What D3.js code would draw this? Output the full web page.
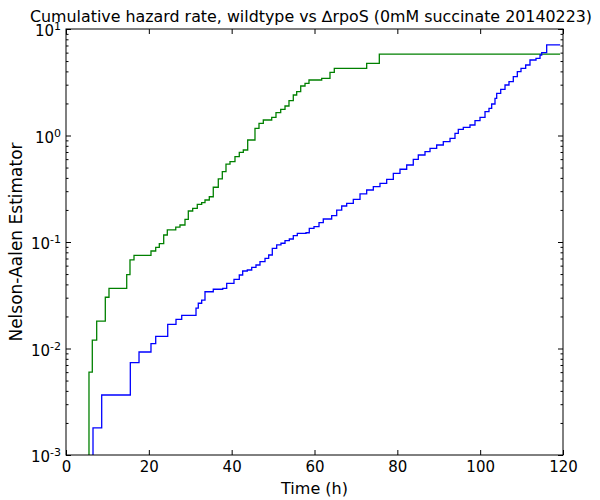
<!DOCTYPE html>
<html><head><meta charset="utf-8">
<script src="https://cdn.jsdelivr.net/npm/d3@7"></script>
<style>body{margin:0;background:#fff}</style>
</head><body><svg id="c" width="600" height="500"></svg>
<script>
// Wildtype (green) Nelson-Aalen steps: time (h) and cumulative hazard after the step
const wtTimes = [5.55,6.35,7.41,9.49,10.38,14.66,15.45,16.42,20.52,21.66,22.53,23.59,24.46,26.5,27.52,28.73,29.53,30.59,31.70,32.76,33.56,34.60,35.56,36.77,37.74,38.63,39.60,40.80,41.84,42.81,43.87,45.63,46.60,47.64,49.67,50.70,51.84,52.88,53.84,54.88,55.70,56.67,57.71,58.67,61.74,63.74,64.78,72.60,75.65];
const wtValues = [0.006,0.012,0.0181,0.0303,0.0367,0.0493,0.0678,0.075,0.0823,0.0891,0.0964,0.1164,0.1297,0.138,0.1444,0.1633,0.1955,0.2072,0.2259,0.2339,0.2479,0.2661,0.3266,0.3908,0.4571,0.5396,0.5675,0.6326,0.6953,0.7309,0.9075,1.168,1.302,1.398,1.482,1.637,1.762,1.892,2.122,2.400,2.577,2.916,3.093,3.321,3.445,3.923,4.276,4.764,5.82];
// ΔrpoS (blue)
const rpoTimes = [6.52,8.62,15.53,17.63,20.52,21.66,24.56,26.56,27.94,31.39,31.94,32.76,33.56,35.56,37.84,38.80,40.56,41.84,42.66,43.77,44.84,45.87,46.84,48.05,48.94,49.81,50.87,51.91,52.88,53.92,54.88,55.85,57.95,58.74,59.88,61.09,62.12,64.15,65.36,66.57,67.77,69.37,70.99,72.60,74.20,75.81,77.43,79.03,80.64,82.26,83.85,85.06,86.68,87.89,89.50,91.10,92.72,93.92,94.72,95.93,97.54,98.75,99.96,101.17,102.13,102.78,103.58,103.99,104.96,106.00,106.96,108.00,108.97,109.86,110.99,112.03,113.48,114.45,114.86,116.06];
const rpoValues = [0.0018,0.00366,0.00736,0.00927,0.01109,0.01302,0.01687,0.0188,0.0205,0.0239,0.0266,0.0285,0.0341,0.036,0.0367,0.0409,0.0446,0.049,0.0534,0.0546,0.0578,0.0608,0.0653,0.0703,0.0755,0.0873,0.0938,0.0973,0.1028,0.1067,0.1146,0.1207,0.1222,0.1345,0.1393,0.1518,0.1644,0.1766,0.1996,0.2178,0.2307,0.2517,0.2825,0.3079,0.3306,0.3556,0.3881,0.4418,0.4819,0.5286,0.5977,0.6562,0.7047,0.758,0.8147,0.8752,0.9411,1.049,1.144,1.194,1.255,1.377,1.482,1.673,1.799,1.976,2.235,2.49,2.716,2.981,3.201,3.567,3.972,4.277,4.594,5.117,5.31,5.703,5.999,7.08];
const endTime = 119.3;
const xTicks = [0,20,40,60,80,100,120];
const yTicks = [1e-3,1e-2,1e-1,1,10];
const yTickExp = ["-3","-2","-1","0","1"];
const titleText = "Cumulative hazard rate, wildtype vs \u2206rpoS (0mM succinate 20140223)";
const xLabel = "Time (h)";
const yLabel = "Nelson-Aalen Estimator";

const L=66,R=563,T=29,B=455;
const svg=d3.select("#c");
const font="DejaVu Sans";
const x=d3.scaleLinear().domain([0,120]).range([L,R]);
const y=d3.scaleLog().domain([1e-3,10]).range([B,T]);

svg.append("defs").append("clipPath").attr("id","clip").append("rect")
  .attr("x",L).attr("y",T).attr("width",R-L).attr("height",B-T);

function series(times, values){
  const pts=[[times[0],1e-5]];
  times.forEach((t,i)=>pts.push([t,values[i]]));
  pts.push([endTime,values[values.length-1]]);
  return pts;
}
const line=d3.line().x(d=>x(d[0])).y(d=>y(d[1])).curve(d3.curveStepAfter);
const g=svg.append("g").attr("clip-path","url(#clip)");
g.append("path").attr("d",line(series(wtTimes,wtValues))).attr("fill","none").attr("stroke","#008000").attr("stroke-width",1.3);
g.append("path").attr("d",line(series(rpoTimes,rpoValues))).attr("fill","none").attr("stroke","#0000ff").attr("stroke-width",1.3);

// minor ticks
const minor=[];
for(let e=-3;e<1;e++) for(let k=2;k<10;k++) minor.push(k*Math.pow(10,e));

function styleAxis(sel){
  sel.select(".domain").remove();
  sel.selectAll("line").attr("stroke","#000");
  sel.selectAll("text").attr("fill","#000").attr("font-family",font);
}
svg.append("g").attr("transform",`translate(0,${B})`)
  .call(d3.axisBottom(x).tickValues(xTicks).tickSizeInner(-5).tickSizeOuter(0).tickPadding(6).tickFormat(d3.format("d")))
  .call(styleAxis).selectAll("text").attr("font-size",15);
svg.append("g").attr("transform",`translate(0,${T})`)
  .call(d3.axisTop(x).tickValues(xTicks).tickSizeInner(-5).tickSizeOuter(0).tickFormat(""))
  .call(styleAxis);
const yl=svg.append("g").attr("transform",`translate(${L},0)`)
  .call(d3.axisLeft(y).tickValues(yTicks).tickSizeInner(-5).tickSizeOuter(0).tickPadding(5).tickFormat(""))
  .call(styleAxis);
yl.selectAll(".tick text").each(function(d,i){
  const t=d3.select(this).attr("font-size",15).attr("dy","0.45em");
  t.append("tspan").text("10");
  t.append("tspan").attr("dy","-0.55em").attr("font-size",11).text(yTickExp[i]);
});
svg.append("g").attr("transform",`translate(${L},0)`)
  .call(d3.axisLeft(y).tickValues(minor).tickSizeInner(-2.5).tickSizeOuter(0).tickFormat(""))
  .call(styleAxis);
svg.append("g").attr("transform",`translate(${R},0)`)
  .call(d3.axisRight(y).tickValues(yTicks).tickSizeInner(-5).tickSizeOuter(0).tickFormat(""))
  .call(styleAxis);
svg.append("g").attr("transform",`translate(${R},0)`)
  .call(d3.axisRight(y).tickValues(minor).tickSizeInner(-2.5).tickSizeOuter(0).tickFormat(""))
  .call(styleAxis);

svg.append("rect").attr("x",L).attr("y",T).attr("width",R-L).attr("height",B-T)
  .attr("fill","none").attr("stroke","#000").attr("stroke-width",1);

svg.append("text").attr("x",311).attr("y",22).attr("text-anchor","middle")
  .attr("font-family",font).attr("font-size",15.5)
  .attr("textLength",562).attr("lengthAdjust","spacingAndGlyphs").text(titleText);
svg.append("text").attr("x",(L+R)/2).attr("y",494).attr("text-anchor","middle")
  .attr("font-family",font).attr("font-size",16).text(xLabel);
svg.append("text").attr("transform",`translate(22,${(T+B)/2}) rotate(-90)`).attr("text-anchor","middle")
  .attr("font-family",font).attr("font-size",17).text(yLabel);
</script></body></html>
